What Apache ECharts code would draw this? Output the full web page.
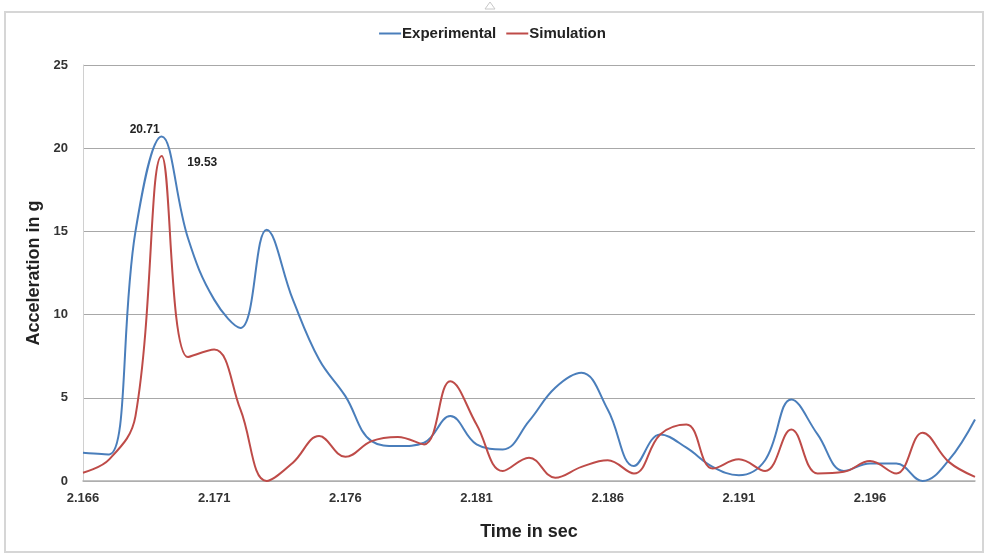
<!DOCTYPE html>
<html>
<head>
<meta charset="utf-8">
<script src="https://cdn.jsdelivr.net/npm/echarts@6/dist/echarts.min.js"></script>
<style>
  html, body { margin: 0; padding: 0; background: #fff; }
  #chart { width: 985px; height: 556px; }
</style>
</head>
<body>
<div id="chart"></div>
<script>
// time stamps (s), one per 0.001 s
const times = [
  "2.166", "2.167", "2.168", "2.169", "2.170", "2.171", "2.172", "2.173", "2.174", "2.175",
  "2.176", "2.177", "2.178", "2.179", "2.180", "2.181", "2.182", "2.183", "2.184", "2.185",
  "2.186", "2.187", "2.188", "2.189", "2.190", "2.191", "2.192", "2.193", "2.194", "2.195",
  "2.196", "2.197", "2.198", "2.199", "2.200"
];
// acceleration in g
const experimental = [
  1.7, 1.6, 15.0, 20.71, 14.6, 10.9, 9.2, 15.1, 10.9, 7.3,
  5.1, 2.4, 2.1, 2.3, 3.9, 2.2, 1.9, 3.6, 5.6, 6.5,
  4.3, 0.9, 2.8, 2.0, 0.85, 0.35, 1.25, 4.9, 2.8, 0.6,
  1.05, 1.05, 0.0, 1.25, 3.7
];
const simulation = [
  0.5, 1.3, 3.9, 19.53, 7.45, 7.9, 4.3, 0.0, 1.1, 2.7,
  1.45, 2.4, 2.65, 2.2, 6.0, 3.4, 0.6, 1.4, 0.2, 0.85,
  1.25, 0.45, 2.8, 3.4, 0.75, 1.3, 0.6, 3.1, 0.45, 0.55,
  1.2, 0.45, 2.9, 1.15, 0.25
];
const yTicks = [0, 5, 10, 15, 20, 25];

const font = "'Liberation Sans', Arial, sans-serif";

// label on the peak value only
function peakMark(position, offset) {
  return {
    symbol: "circle",
    symbolSize: 1,
    itemStyle: { color: "transparent" },
    label: {
      show: true,
      position: position,
      offset: offset,
      fontFamily: font,
      fontWeight: "bold",
      fontSize: 12,
      color: "#222",
      formatter: (p) => p.value.toFixed(2)
    },
    data: [{ type: "max" }]
  };
}

const option = {
  backgroundColor: "#fff",
  animation: false,
  graphic: [
    {
      type: "rect",
      shape: { x: 5, y: 12, width: 978, height: 540 },
      style: { fill: "none", stroke: "#d6d6d6", lineWidth: 2 }
    },
    {
      type: "polygon",
      shape: { points: [[485, 9], [490, 2], [495, 9]] },
      style: { fill: "#fff", stroke: "#c8c8c8", lineWidth: 1 }
    }
  ],
  legend: {
    top: 21,
    left: "center",
    itemWidth: 22,
    itemHeight: 2,
    itemGap: 10,
    icon: "rect",
    textStyle: { fontFamily: font, fontWeight: "bold", fontSize: 15, color: "#222", padding: [0, 0, 0, -4] },
    data: ["Experimental", "Simulation"]
  },
  grid: { left: 83, right: 10, top: 65, bottom: 75 },
  xAxis: {
    type: "category",
    data: times,
    boundaryGap: false,
    name: "Time in sec",
    nameLocation: "middle",
    nameGap: 42,
    nameTextStyle: { fontFamily: font, fontWeight: "bold", fontSize: 18, color: "#222" },
    axisLine: { lineStyle: { color: "#b0b0b0", width: 1.5 } },
    axisTick: { show: false },
    axisLabel: {
      interval: 4,
      margin: 11,
      fontFamily: font,
      fontWeight: "bold",
      fontSize: 13,
      color: "#333"
    },
    splitLine: { show: false }
  },
  yAxis: {
    type: "value",
    min: yTicks[0],
    max: yTicks[yTicks.length - 1],
    interval: 5,
    name: "Acceleration in g",
    nameLocation: "middle",
    nameGap: 39,
    nameTextStyle: { fontFamily: font, fontWeight: "bold", fontSize: 18, color: "#222" },
    axisLine: { show: true, lineStyle: { color: "#d0d0d0" } },
    axisTick: { show: false },
    axisLabel: { margin: 15, fontFamily: font, fontWeight: "bold", fontSize: 13, color: "#333" },
    splitLine: { lineStyle: { color: "#a8a8a8", width: 1 } }
  },
  series: [
    {
      name: "Experimental",
      type: "line",
      smooth: 0.4,
      symbol: "none",
      lineStyle: { color: "#4a7ebb", width: 2 },
      itemStyle: { color: "#4a7ebb" },
      data: experimental,
      markPoint: peakMark("top", [-17, 5])
    },
    {
      name: "Simulation",
      type: "line",
      smooth: 0.4,
      symbol: "none",
      lineStyle: { color: "#be4b48", width: 2 },
      itemStyle: { color: "#be4b48" },
      data: simulation,
      markPoint: peakMark("right", [20, 7])
    }
  ]
};

const myChart = echarts.init(document.getElementById("chart"));
myChart.setOption(option);
</script>
</body>
</html>
